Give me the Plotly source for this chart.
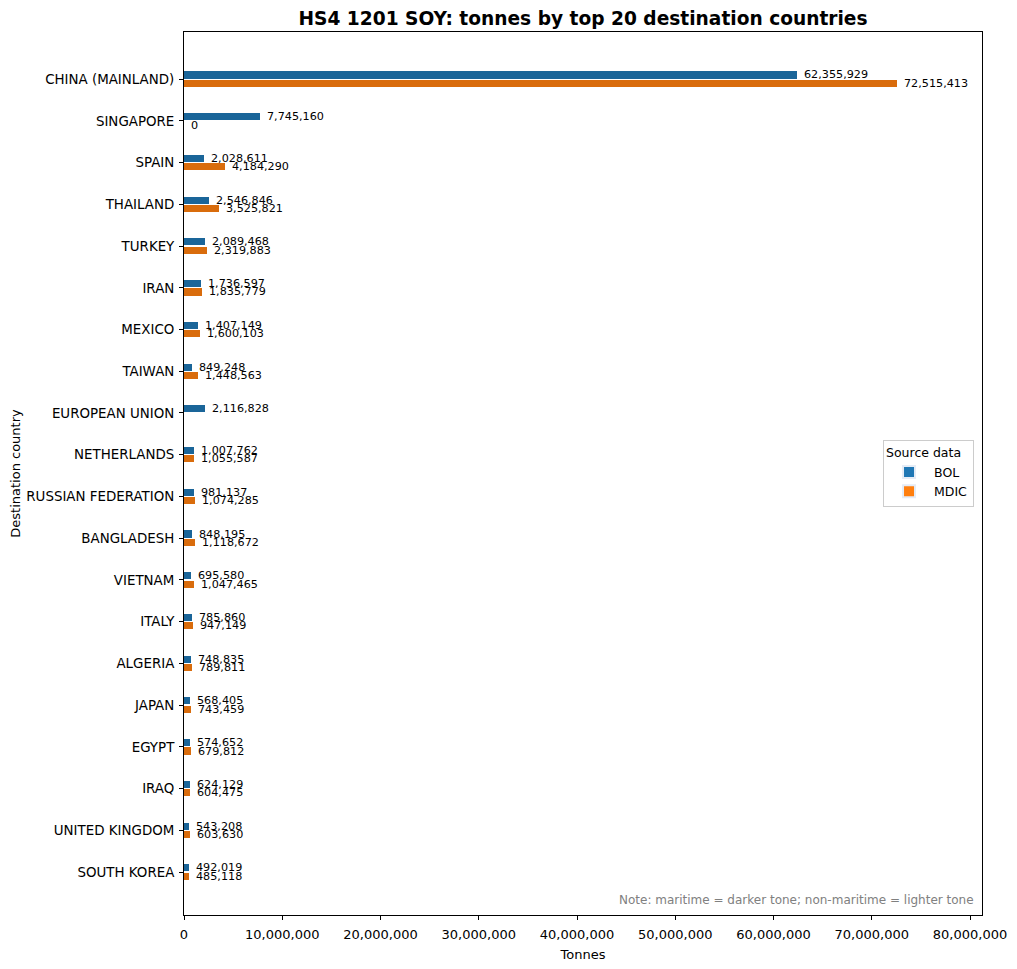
import plotly.graph_objects as go

countries = ["CHINA (MAINLAND)", "SINGAPORE", "SPAIN", "THAILAND", "TURKEY", "IRAN",
             "MEXICO", "TAIWAN", "EUROPEAN UNION", "NETHERLANDS", "RUSSIAN FEDERATION",
             "BANGLADESH", "VIETNAM", "ITALY", "ALGERIA", "JAPAN", "EGYPT", "IRAQ",
             "UNITED KINGDOM", "SOUTH KOREA"]
bol = [62355929, 7745160, 2028611, 2546846, 2089468, 1736597, 1407149, 849248, 2116828,
       1007762, 981137, 848195, 695580, 785860, 748835, 568405, 574652, 624129, 543208, 492019]
mdic = [72515413, 0, 4184290, 3525821, 2319883, 1835779, 1600103, 1448563, None,
        1055587, 1074285, 1118672, 1047465, 947149, 789811, 743459, 679812, 604475, 603630, 485118]

BOL_DARK = "#1a6599"
MDIC_DARK = "#d96c0c"
BOL_LEG = "#1f77b4"
MDIC_LEG = "#ff7f0e"

idx = list(range(len(countries)))
y_bol = [i - 0.1 for i in idx]
y_mdic = [i + 0.1 for i in idx]

fig = go.Figure()
fig.add_trace(go.Bar(x=bol, y=y_bol, orientation="h", width=0.17,
                     marker=dict(color=BOL_DARK, line=dict(width=0)),
                     showlegend=False, hoverinfo="x"))
fig.add_trace(go.Bar(x=mdic, y=y_mdic, orientation="h", width=0.17,
                     marker=dict(color=MDIC_DARK, line=dict(width=0)),
                     showlegend=False, hoverinfo="x"))
# legend-only entries
fig.add_trace(go.Bar(x=[None], y=[None], orientation="h", name="BOL",
                     marker=dict(color=BOL_LEG)))
fig.add_trace(go.Bar(x=[None], y=[None], orientation="h", name="MDIC",
                     marker=dict(color=MDIC_LEG)))

annotations = []
for vals, ys in ((bol, y_bol), (mdic, y_mdic)):
    for v, yy in zip(vals, ys):
        if v is None:
            continue
        annotations.append(dict(x=v, y=yy, xref="x", yref="y", text=f"{v:,}",
                                showarrow=False, xanchor="left", yanchor="middle",
                                xshift=5, font=dict(size=11.2, color="black")))
annotations.append(dict(x=0.993, y=0.007, xref="paper", yref="paper",
                        text="Note: maritime = darker tone; non-maritime = lighter tone",
                        showarrow=False, xanchor="right", yanchor="bottom",
                        font=dict(size=12, color="#808080")))

# page is drawn with an 8px offset, compensate in margins
L, R, T, B = 176, 43, 24, 62
W, H = 1017, 969
xmax = max(v for v in mdic if v is not None) * 1.12
fig.update_layout(
    width=W, height=H,
    margin=dict(l=L, r=R, t=T, b=B, autoexpand=False),
    paper_bgcolor="white", plot_bgcolor="white",
    font=dict(family="DejaVu Sans", size=13, color="black"),
    title=dict(text="<b>HS4 1201 SOY: tonnes by top 20 destination countries</b>",
               x=(L + (W - L - R) / 2) / W, xanchor="center", y=1 - 10 / H, yanchor="middle",
               font=dict(size=18.6)),
    barmode="overlay",
    showlegend=True,
    legend=dict(title=dict(text="Source data", font=dict(size=12.5)),
                x=0.99, xanchor="right", y=0.5, yanchor="middle",
                bordercolor="#cccccc", borderwidth=1, bgcolor="white",
                font=dict(size=12.5), itemsizing="constant", tracegroupgap=0,
                itemwidth=40),
    annotations=annotations,
    bargap=0,
)
fig.update_xaxes(range=[0, xmax], tickvals=[i * 10_000_000 for i in range(9)],
                 tickformat=",d", ticks="outside", ticklen=4, tickcolor="black",
                 showline=True, linecolor="black", linewidth=1, mirror=True,
                 showgrid=False, zeroline=False, tickfont=dict(size=13), automargin=False,
                 ticklabelstandoff=3,
                 title=dict(text="Tonnes", font=dict(size=13), standoff=9))
fig.update_yaxes(range=[len(countries) - 1 + 1.03, -1.13], tickvals=idx, ticktext=countries,
                 ticks="outside", ticklen=4, tickcolor="black",
                 showline=True, linecolor="black", linewidth=1, mirror=True,
                 showgrid=False, zeroline=False, tickfont=dict(size=13.4), automargin=False,
                 ticklabelstandoff=2,
                 title=dict(text="Destination country", font=dict(size=13), standoff=6))

fig.write_html("out.html")
